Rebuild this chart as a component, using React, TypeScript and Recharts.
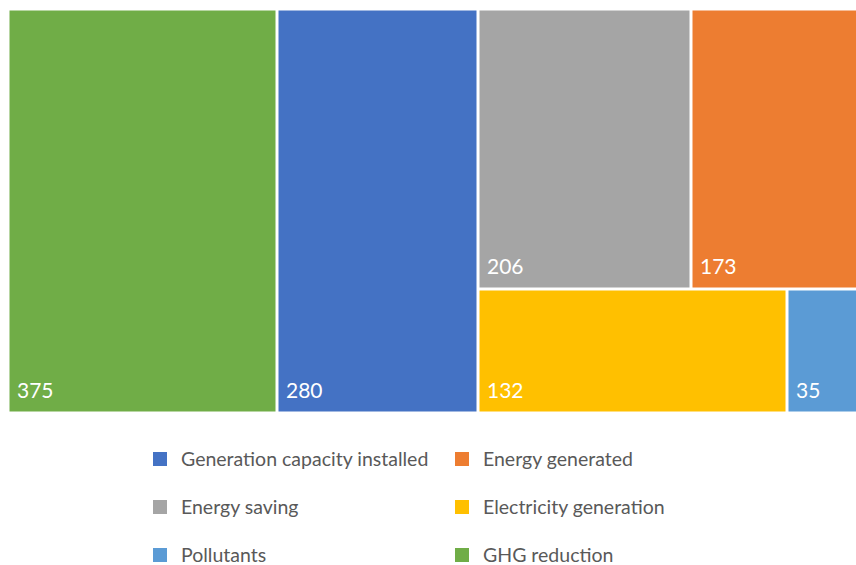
import { Treemap } from "recharts";

const names = [
  "GHG reduction",
  "Generation capacity installed",
  "Energy saving",
  "Energy generated",
  "Electricity generation",
  "Pollutants",
];
const values = [375, 280, 206, 173, 132, 35];
const colors = ["#70AD47", "#4472C4", "#A5A5A5", "#ED7D31", "#FFC000", "#5B9BD5"];
const legendOrder = [
  "Generation capacity installed",
  "Energy generated",
  "Energy saving",
  "Electricity generation",
  "Pollutants",
  "GHG reduction",
];

const data = names.map((name, i) => ({ name, size: values[i] }));

const font = "Lato, 'Open Sans', sans-serif";

function Tile(props: any) {
  const { x, y, width, height, depth, name } = props;
  if (depth !== 1) return null;
  const i = names.indexOf(name);
  const v = props.size ?? props.value;
  return (
    <g>
      <rect
        x={x + 1.5}
        y={y + 1.5}
        width={Math.max(0, width - 3)}
        height={Math.max(0, height - 3)}
        fill={colors[i]}
        stroke="none"
      />
      <text
        x={x + 9}
        y={y + height - 15}
        fill="#ffffff"
        stroke="none"
        fontSize={21}
        fontFamily={font}
      >
        {v}
      </text>
    </g>
  );
}

export default function App() {
  return (
    <div
      style={{
        position: "fixed",
        left: 0,
        top: 0,
        width: 856,
        height: 565,
        overflow: "hidden",
        background: "#fff",
        fontFamily: font,
      }}
    >
      <div style={{ position: "absolute", left: 8, top: 9, width: 862, height: 404 }}>
        <Treemap
          width={862}
          height={404}
          data={data}
          dataKey="size"
          nameKey="name"
          aspectRatio={0.9}
          isAnimationActive={false}
          content={<Tile />}
        />
      </div>
      {legendOrder.map((name, k) => {
        const col = k % 2;
        const row = Math.floor(k / 2);
        const left = col === 0 ? 153 : 455;
        const cy = 459 + row * 48;
        return (
          <div
            key={name}
            style={{
              position: "absolute",
              left,
              top: cy - 10,
              height: 20,
              lineHeight: "20px",
              display: "flex",
              alignItems: "center",
              whiteSpace: "nowrap",
            }}
          >
            <span
              style={{
                display: "inline-block",
                width: 14,
                height: 14,
                background: colors[names.indexOf(name)],
                marginRight: 14,
              }}
            />
            <span style={{ fontSize: 19.5, color: "#595959", lineHeight: "20px" }}>{name}</span>
          </div>
        );
      })}
    </div>
  );
}
